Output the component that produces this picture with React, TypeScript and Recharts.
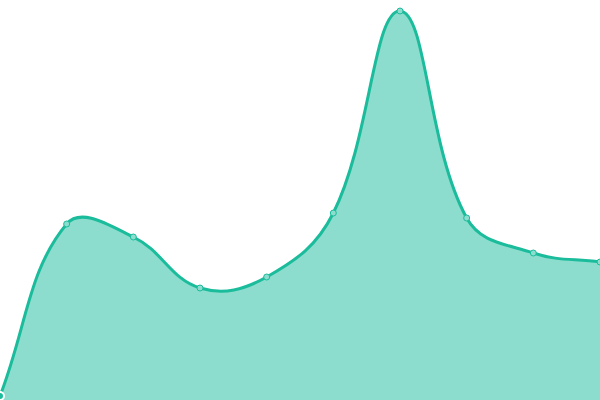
import { AreaChart, Area, XAxis, YAxis } from 'recharts'

const categories = ['1', '2', '3', '4', '5', '6', '7', '8', '9', '10']
const values = [4, 176, 163, 112, 123, 187, 389, 182, 147, 138]

const chartData = categories.map((name, i) => ({ name, value: values[i] }))

// distance-weighted spline with tension, control points kept inside the plot box
function tensionCurve(t: number, w: number, h: number) {
  return (context: any) => {
    let pts: number[][] = []
    let line = NaN
    const clamp = (v: number, lo: number, hi: number) => Math.max(lo, Math.min(hi, v))
    return {
      areaStart() { line = 0 },
      areaEnd() { line = NaN },
      lineStart() { pts = [] },
      point(x: number, y: number) { pts.push([+x, +y]) },
      lineEnd() {
        const n = pts.length
        if (n) {
          if (line) context.lineTo(pts[0][0], pts[0][1])
          else context.moveTo(pts[0][0], pts[0][1])
          const ctl = pts.map((cur, i) => {
            const prev = pts[i - 1] || cur
            const next = pts[i + 1] || cur
            const d01 = Math.hypot(cur[0] - prev[0], cur[1] - prev[1])
            const d12 = Math.hypot(next[0] - cur[0], next[1] - cur[1])
            let s01 = d01 / (d01 + d12)
            let s12 = d12 / (d01 + d12)
            if (isNaN(s01)) s01 = 0
            if (isNaN(s12)) s12 = 0
            const fa = t * s01
            const fb = t * s12
            return {
              px: clamp(cur[0] - fa * (next[0] - prev[0]), 0, w),
              py: clamp(cur[1] - fa * (next[1] - prev[1]), 0, h),
              nx: clamp(cur[0] + fb * (next[0] - prev[0]), 0, w),
              ny: clamp(cur[1] + fb * (next[1] - prev[1]), 0, h),
            }
          })
          for (let i = 1; i < n; i++) {
            context.bezierCurveTo(ctl[i - 1].nx, ctl[i - 1].ny, ctl[i].px, ctl[i].py, pts[i][0], pts[i][1])
          }
        }
        if (line || (line !== 0 && n === 1)) context.closePath()
        line = 1 - line
      },
    }
  }
}

export default function App() {
  return (
    <div>
      <style>{'body{margin:0}'}</style>
      <AreaChart width={600} height={400} data={chartData} margin={{ top: 0, right: 0, left: 0, bottom: 0 }}>
        <XAxis dataKey="name" hide />
        <YAxis domain={[0, 400]} hide />
        <Area
          type={tensionCurve(0.4, 600, 400) as any}
          dataKey="value"
          stroke="#1abc9c"
          strokeWidth={3}
          fill="#1abc9c"
          fillOpacity={0.5}
          dot={{ r: 3, fill: '#8cddcd', stroke: '#1abc9c', strokeWidth: 1, fillOpacity: 1 }}
          isAnimationActive={false}
        />
      </AreaChart>
    </div>
  )
}
